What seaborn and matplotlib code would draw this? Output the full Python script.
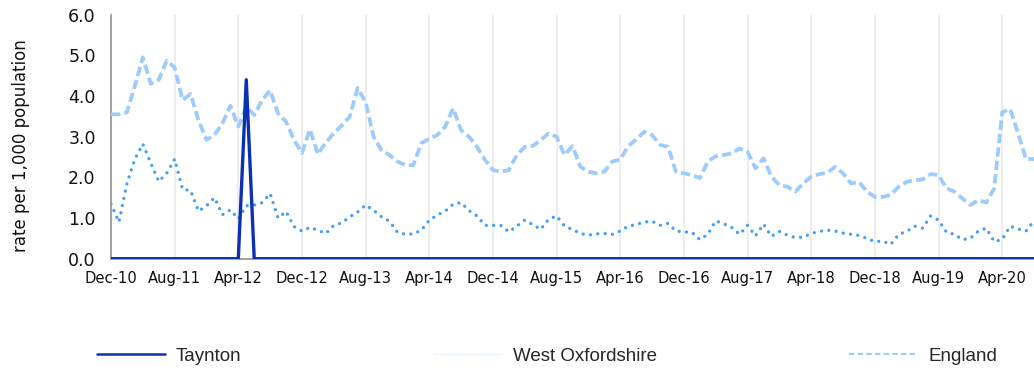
import numpy as np
import pandas as pd
import matplotlib
matplotlib.use("Agg")
import matplotlib.pyplot as plt
from matplotlib.lines import Line2D
import seaborn as sns

# Monthly rates per 1,000 population, Dec-10 .. Aug-20
months = pd.period_range("2010-12", "2020-08", freq="M").strftime("%b-%y").tolist()

taynton = [
    0.0, 0.0, 0.0, 0.0, 0.0, 0.0, 0.0, 0.0, 0.0, 0.0,
    0.0, 0.0, 0.0, 0.0, 0.0, 0.0, 0.0, 4.4, 0.0, 0.0,
    0.0, 0.0, 0.0, 0.0, 0.0, 0.0, 0.0, 0.0, 0.0, 0.0,
    0.0, 0.0, 0.0, 0.0, 0.0, 0.0, 0.0, 0.0, 0.0, 0.0,
    0.0, 0.0, 0.0, 0.0, 0.0, 0.0, 0.0, 0.0, 0.0, 0.0,
    0.0, 0.0, 0.0, 0.0, 0.0, 0.0, 0.0, 0.0, 0.0, 0.0,
    0.0, 0.0, 0.0, 0.0, 0.0, 0.0, 0.0, 0.0, 0.0, 0.0,
    0.0, 0.0, 0.0, 0.0, 0.0, 0.0, 0.0, 0.0, 0.0, 0.0,
    0.0, 0.0, 0.0, 0.0, 0.0, 0.0, 0.0, 0.0, 0.0, 0.0,
    0.0, 0.0, 0.0, 0.0, 0.0, 0.0, 0.0, 0.0, 0.0, 0.0,
    0.0, 0.0, 0.0, 0.0, 0.0, 0.0, 0.0, 0.0, 0.0, 0.0,
    0.0, 0.0, 0.0, 0.0, 0.0, 0.0, 0.0,
]

west_oxfordshire = [
    1.35, 0.90, 1.85, 2.45, 2.82, 2.35, 1.90, 2.10, 2.45, 1.70,
    1.68, 1.17, 1.30, 1.50, 1.08, 1.20, 0.98, 1.30, 1.32, 1.38,
    1.60, 1.00, 1.16, 0.79, 0.68, 0.77, 0.70, 0.62, 0.82, 0.88,
    1.03, 1.15, 1.32, 1.19, 1.03, 0.92, 0.65, 0.60, 0.61, 0.70,
    0.95, 1.07, 1.17, 1.34, 1.38, 1.18, 1.05, 0.82, 0.82, 0.82,
    0.66, 0.80, 0.95, 0.84, 0.72, 0.97, 1.05, 0.80, 0.72, 0.62,
    0.58, 0.61, 0.62, 0.60, 0.68, 0.80, 0.84, 0.90, 0.92, 0.82,
    0.87, 0.68, 0.66, 0.65, 0.47, 0.60, 0.93, 0.86, 0.77, 0.60,
    0.82, 0.56, 0.85, 0.55, 0.67, 0.58, 0.52, 0.53, 0.62, 0.67,
    0.70, 0.68, 0.63, 0.60, 0.57, 0.50, 0.42, 0.43, 0.35, 0.60,
    0.67, 0.80, 0.75, 1.05, 0.95, 0.65, 0.60, 0.47, 0.50, 0.68,
    0.75, 0.42, 0.47, 0.80, 0.73, 0.68, 0.93,
]

england = [
    3.55, 3.55, 3.60, 4.25, 4.95, 4.30, 4.40, 4.87, 4.70, 3.90,
    4.05, 3.40, 2.92, 3.04, 3.33, 3.76, 3.25, 3.74, 3.53, 3.90,
    4.14, 3.57, 3.37, 2.92, 2.60, 3.18, 2.57, 2.86, 3.08, 3.28,
    3.49, 4.20, 3.85, 3.00, 2.67, 2.55, 2.39, 2.30, 2.30, 2.84,
    2.95, 3.04, 3.25, 3.70, 3.16, 3.00, 2.75, 2.43, 2.18, 2.14,
    2.18, 2.55, 2.75, 2.77, 2.92, 3.08, 3.00, 2.55, 2.77, 2.26,
    2.14, 2.10, 2.14, 2.39, 2.44, 2.77, 2.93, 3.12, 3.04, 2.80,
    2.75, 2.14, 2.10, 2.06, 1.98, 2.39, 2.52, 2.55, 2.59, 2.71,
    2.63, 2.22, 2.47, 2.02, 1.81, 1.77, 1.65, 1.85, 2.02, 2.08,
    2.11, 2.26, 2.10, 1.85, 1.89, 1.65, 1.52, 1.52, 1.57, 1.77,
    1.89, 1.93, 1.95, 2.08, 2.06, 1.73, 1.65, 1.48, 1.32, 1.44,
    1.38, 1.73, 3.60, 3.68, 3.08, 2.45, 2.45,
]

tick_labels = ["Dec-10", "Aug-11", "Apr-12", "Dec-12", "Aug-13", "Apr-14",
               "Dec-14", "Aug-15", "Apr-16", "Dec-16", "Aug-17", "Apr-18",
               "Dec-18", "Aug-19", "Apr-20"]
y_ticks = [0.0, 1.0, 2.0, 3.0, 4.0, 5.0, 6.0]

series_names = ["Taynton", "West Oxfordshire", "England"]
colors = {"Taynton": "#0b30b2", "West Oxfordshire": "#449ff7", "England": "#9dcbfd"}

df = pd.DataFrame({
    "month": months,
    "pos": np.arange(len(months)),
    "Taynton": taynton,
    "West Oxfordshire": west_oxfordshire,
    "England": england,
})

sns.set_style("white")
plt.rcParams["font.family"] = ["DejaVu Sans"]

fig = plt.figure(figsize=(10.34, 3.71), dpi=100)
ax = fig.add_axes([111 / 1034, 1 - 258.7 / 371, (1034 - 111) / 1034, 244 / 371])

# England: wide light-blue dashes
sns.lineplot(data=df, x="pos", y="England", ax=ax, color=colors["England"],
             lw=2.7, zorder=3)
ln = ax.lines[-1]
ln.set_linestyle((0, (2.5, 1.1)))
ln.set_dash_capstyle("butt")

# West Oxfordshire: round dots
sns.lineplot(data=df, x="pos", y="West Oxfordshire", ax=ax,
             color=colors["West Oxfordshire"], lw=2.4, zorder=4)
ln = ax.lines[-1]
ln.set_linestyle((0, (0.01, 2.2)))
ln.set_dash_capstyle("round")

# Taynton: solid dark blue
sns.lineplot(data=df, x="pos", y="Taynton", ax=ax, color=colors["Taynton"],
             lw=2.4, zorder=5)

ax.set_xlim(0, len(months) - 1)
ax.set_ylim(0, 6)

tick_pos = [months.index(t) for t in tick_labels]
ax.set_xticks(tick_pos)
ax.set_xticklabels(tick_labels)
ax.set_yticks(y_ticks)
ax.set_yticklabels([f"{v:.1f}" for v in y_ticks])

ax.grid(axis="x", color="#ececec", lw=1.3, zorder=0)
ax.grid(axis="y", visible=False)
ax.set_axisbelow(True)

for s in ["top", "right"]:
    ax.spines[s].set_visible(False)
ax.spines["left"].set_color("#9a9a9a")
ax.spines["left"].set_linewidth(1.3)
ax.spines["bottom"].set_color("#9a9a9a")
ax.spines["bottom"].set_linewidth(1.3)

ax.tick_params(axis="x", length=3.5, width=1.2, color="#9a9a9a", pad=5,
               labelsize=10.6, labelcolor="#111111")
ax.tick_params(axis="y", length=4, width=1.2, color="#9a9a9a", pad=7,
               labelsize=12.5, labelcolor="#111111")
ax.set_xlabel("")
ax.set_ylabel("")

fig.text(21 / 1034, 1 - 146 / 371, "rate per 1,000 population", rotation=90,
         ha="center", va="center", fontsize=12, color="#111111")

handles = [
    Line2D([], [], color=colors["Taynton"], lw=1.8),
    Line2D([], [], color="#d9ecff", lw=1.0, linestyle=(0, (1, 1))),
    Line2D([], [], color=colors["England"], lw=1.6, linestyle=(0, (2.4, 1.5))),
]
fig.legend(handles, series_names, loc="center left",
           bbox_to_anchor=(97 / 1034, 1 - 356 / 371), ncol=3, frameon=False,
           borderpad=0, borderaxespad=0, handlelength=3.63, handletextpad=0.59,
           columnspacing=10.25, prop={"family": "Liberation Sans", "size": 13.5})

fig.savefig("out.png", dpi=100)
